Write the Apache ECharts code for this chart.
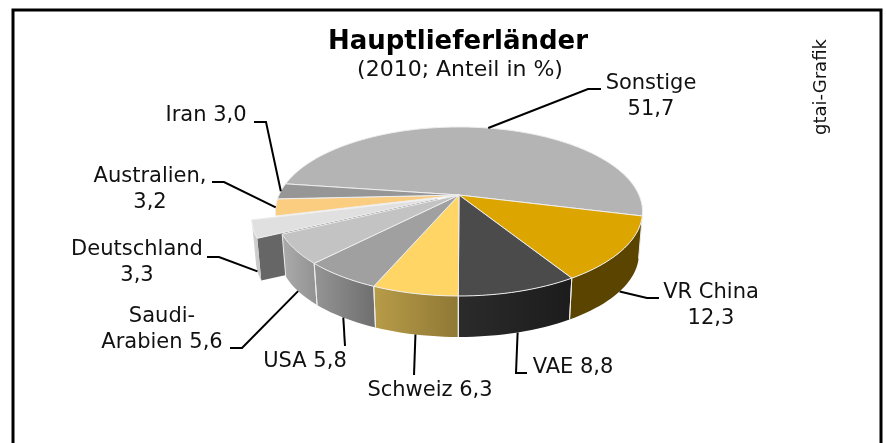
<!DOCTYPE html>
<html>
<head>
<meta charset="utf-8">
<style>
  html, body { margin: 0; padding: 0; background: #fff; }
  #chart { width: 886px; height: 443px; }
</style>
<script src="https://cdn.jsdelivr.net/npm/echarts@6/dist/echarts.min.js"></script>
</head>
<body>
<div id="chart"></div>
<script>
// values, clockwise from Sonstige
const names = ['Sonstige', 'VR China', 'VAE', 'Schweiz', 'USA', 'Saudi-\nArabien', 'Deutschland', 'Australien,', 'Iran'];
const values = [51.7, 12.3, 8.8, 6.3, 5.8, 5.6, 3.3, 3.2, 3.0];
const separators = ['\n', '\n', ' ', ' ', ' ', ' ', '\n', '\n', ' '];

const topColors = ['#b4b4b4', '#dca500', '#4b4b4b', '#ffd565', '#a0a0a0', '#c3c3c3', '#e0e0e0', '#fbcd80', '#969696'];
// wall gradient, left colour then right colour
const wallColors = [null, ['#5a4400', '#5a4400'], ['#2b2b2b', '#1c1c1c'], ['#b79c48', '#8f7835'], ['#959595', '#6e6e6e'], ['#ababab', '#929292'], ['#d4d4d4', '#c4c4c4'], null, null];

// label centre and leader line end for each slice, in page pixels
const labelAt = [[651, 97], [711, 306], [573, 368], [430, 391], [305, 362], [162, 330], [137, 263], [150, 190], [206, 116]];
const leaderEnd = [[[588, 89], [601, 89]], [[647, 298], [659, 298]], [[516, 373], [527, 373]], [[414, 375]], [[345, 346]],
  [[242, 348], [230, 348]], [[219, 257], [207, 257]], [[224, 182], [212, 182]], [[266, 122], [254, 122]]];

const EXPLODED = 6, EXPLODE = 0.125;
const START = 14.2 - 186.1; // Sonstige starts here so that it ends at 14.2 deg

// tilted disc: unit circle -> page, with a bit of perspective
function project(x, y, bottom) {
  const d = 1 - 0.195 * y;
  const px = 180 * x / d, py = 81.3 * y / d;
  return bottom ? [459 + px * 0.98, 238 + py * 0.98] : [459 + px, 195 + py];
}
function arc(a0, a1, ox, oy, bottom) {
  const pts = [];
  const n = Math.max(2, Math.ceil(Math.abs(a1 - a0) / 2));
  for (let i = 0; i <= n; i++) {
    const a = (a0 + (a1 - a0) * i / n) * Math.PI / 180;
    pts.push(project(ox + Math.cos(a), oy + Math.sin(a), bottom));
  }
  return pts;
}

function renderSlice(params, api) {
  const i = api.value(0);
  const total = values.reduce((s, v) => s + v, 0);
  let a0 = START;
  for (let k = 0; k < i; k++) a0 += values[k] / total * 360;
  const a1 = a0 + values[i] / total * 360;
  const mid = (a0 + a1) / 2 * Math.PI / 180;
  const ex = i === EXPLODED ? EXPLODE : 0;
  const ox = ex * Math.cos(mid), oy = ex * Math.sin(mid);
  const edge = '#eeeeee';
  const children = [];
  const base = i === EXPLODED ? 0 : 4;

  if (wallColors[i]) {
    const topArc = arc(a0, a1, ox, oy, false);
    const botArc = arc(a0, a1, ox, oy, true);
    children.push({
      type: 'polygon', z2: base + 1,
      shape: { points: topArc.concat(botArc.slice().reverse()) },
      style: { fill: new echarts.graphic.LinearGradient(0, 0, 1, 0, [
        { offset: 0, color: wallColors[i][0] }, { offset: 1, color: wallColors[i][1] }]) }
    });
    if (i !== EXPLODED) {
      [0, topArc.length - 1].forEach(k => children.push({
        type: 'line', z2: base + 2,
        shape: { x1: topArc[k][0], y1: topArc[k][1], x2: botArc[k][0], y2: botArc[k][1] },
        style: { stroke: edge, lineWidth: 1 }
      }));
    }
  }
  if (i === EXPLODED) {
    // the cut face that shows because the slice is pulled out
    const c = arc(a0, a0, ox, oy, false)[0], cb = arc(a0, a0, ox, oy, true)[0];
    children.push({
      type: 'polygon', z2: 0,
      shape: { points: [c, project(ox, oy, false), project(ox, oy, true), cb] },
      style: { fill: '#666666' }
    });
  }
  children.push({
    type: 'polygon', z2: base + 3,
    shape: { points: [project(ox, oy, false)].concat(arc(a0, a1, ox, oy, false)) },
    style: { fill: topColors[i], stroke: edge, lineWidth: 1 }
  });

  // leader line starts on the slice, on the lower rim if it faces the viewer
  const onBottom = Math.sin(mid) > 0.2;
  const start = project(ox + Math.cos(mid), oy + Math.sin(mid), onBottom);
  children.push({
    type: 'polyline', z2: 20,
    shape: { points: [start].concat(leaderEnd[i]) },
    style: { stroke: '#000', lineWidth: 2, fill: null }
  });
  children.push({
    type: 'text', z2: 21,
    style: {
      text: names[i] + separators[i] + values[i].toFixed(1).replace('.', ','),
      x: labelAt[i][0], y: labelAt[i][1],
      align: 'center', verticalAlign: 'middle',
      font: '21px "DejaVu Sans"', lineHeight: 26, fill: '#111'
    }
  });
  return { type: 'group', children: children };
}

const chart = echarts.init(document.getElementById('chart'), null, { renderer: 'canvas' });
chart.setOption({
  animation: false,
  backgroundColor: '#fff',
  title: [
    { text: 'Hauptlieferländer', left: 453, top: 24, textAlign: 'center',
      textStyle: { fontFamily: 'DejaVu Sans', fontSize: 26, fontWeight: 'bold', color: '#000' } },
    { text: '(2010; Anteil in %)', left: 455, top: 54, textAlign: 'center',
      textStyle: { fontFamily: 'DejaVu Sans', fontSize: 22, fontWeight: 'normal', color: '#111' } }
  ],
  graphic: [
    { type: 'polyline', shape: { points: [[13, 443], [13, 10], [881, 10], [881, 443]] },
      style: { stroke: '#000', lineWidth: 3, fill: null } },
    { type: 'text', x: 821, y: 87, rotation: Math.PI / 2,
      style: { text: 'gtai-Grafik', font: '18px "DejaVu Sans"', fill: '#111', align: 'center', verticalAlign: 'middle' } }
  ],
  series: [{
    type: 'custom',
    coordinateSystem: 'none',
    renderItem: renderSlice,
    data: values.map((v, i) => [i, v])
  }]
});
</script>
</body>
</html>
